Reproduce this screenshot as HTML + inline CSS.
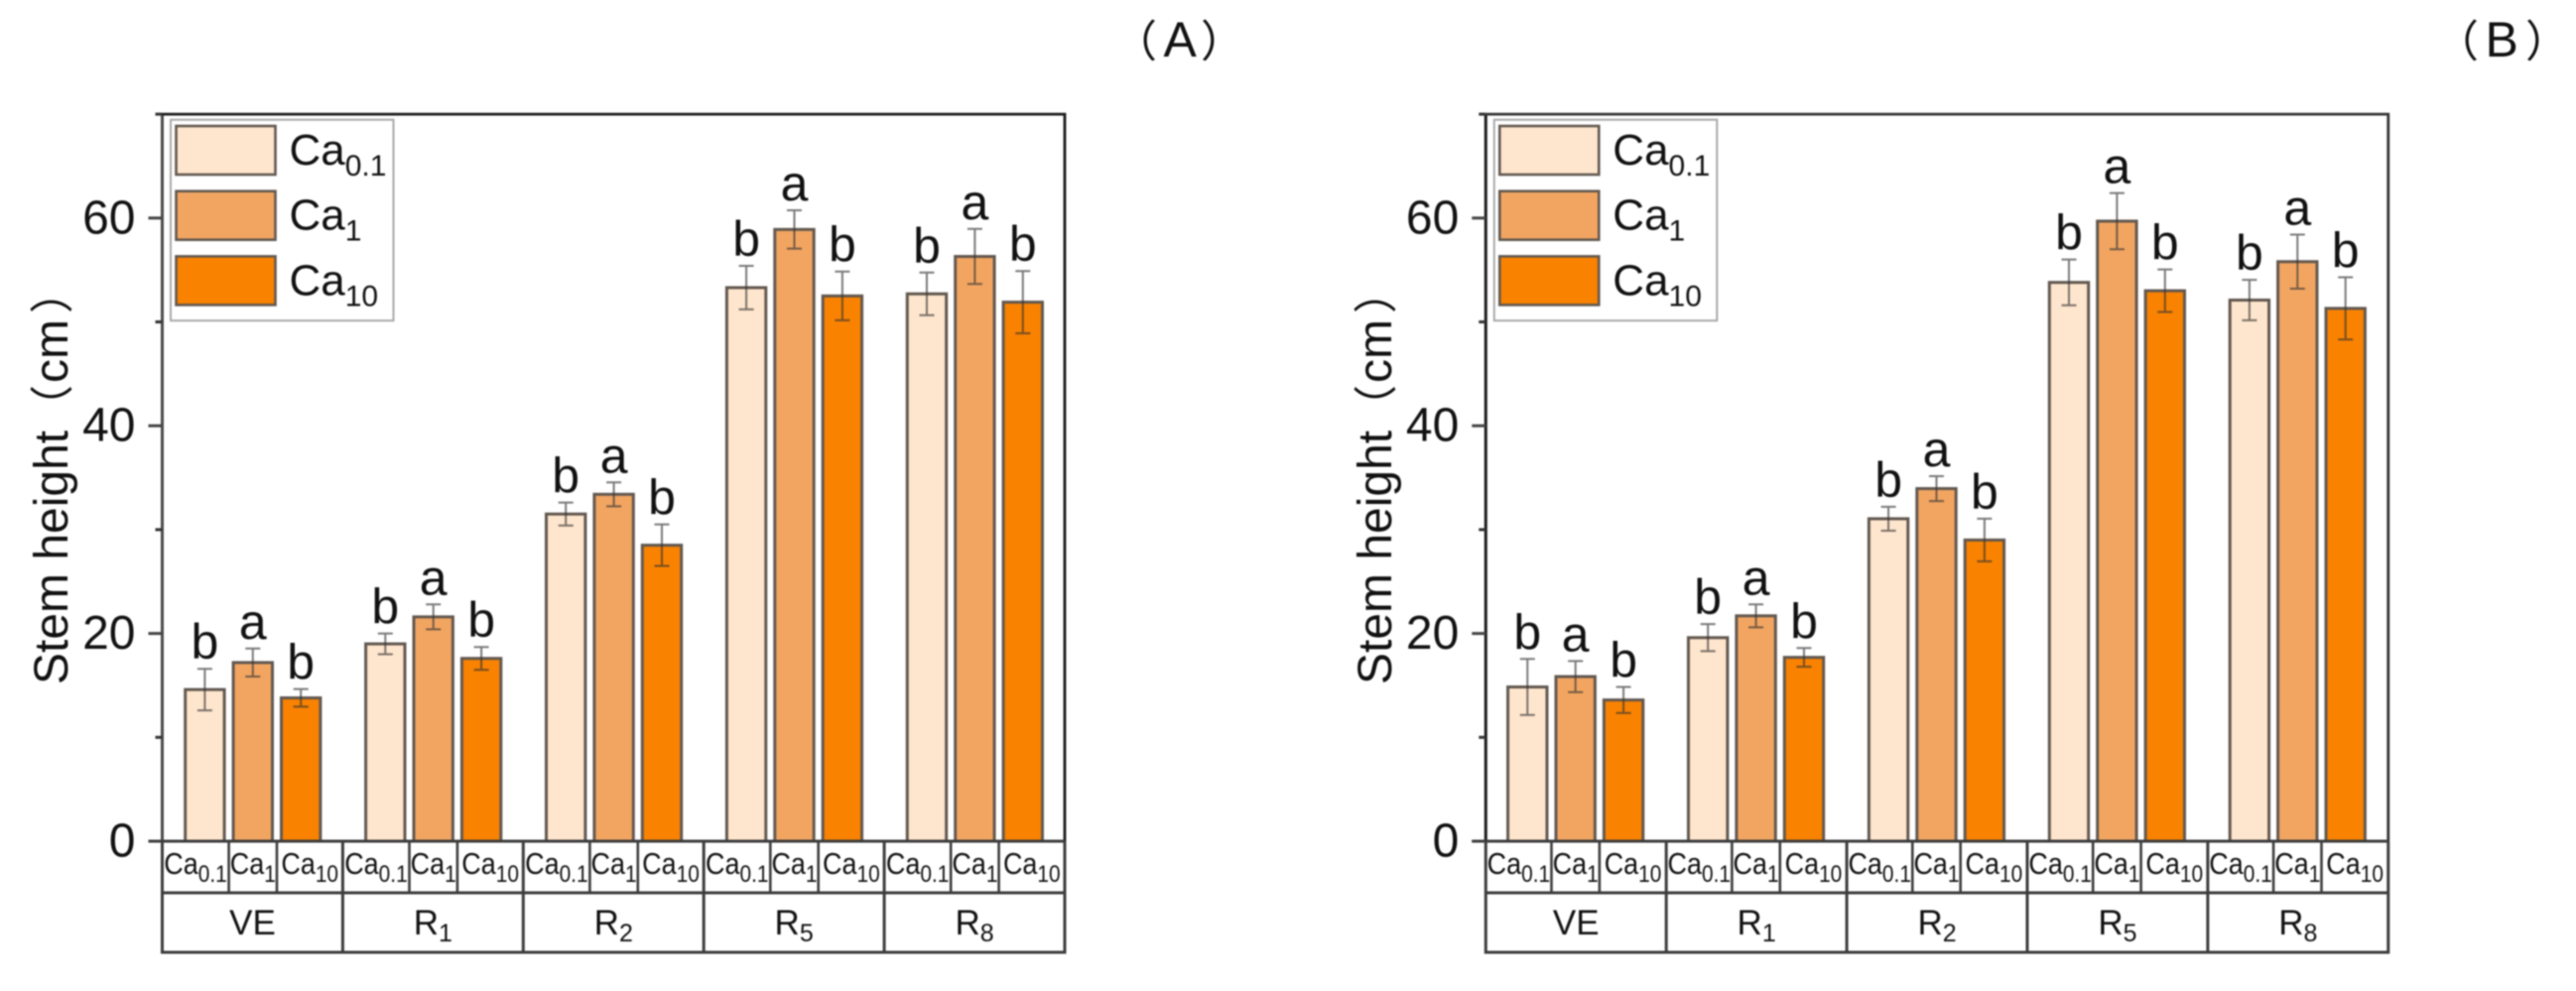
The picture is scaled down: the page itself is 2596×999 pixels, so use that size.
<!DOCTYPE html>
<html lang="en">
<head>
<meta charset="utf-8">
<title>Stem height bar charts</title>
<style>
html,body{margin:0;padding:0;background:#fff;width:2596px;height:999px;overflow:hidden}
svg{display:block;filter:blur(0.8px)}
text{font-family:"Liberation Sans","Noto Sans CJK SC",sans-serif;fill:#111;text-spacing-trim:space-all}
</style>
</head>
<body>
<svg id="figure" xmlns="http://www.w3.org/2000/svg" width="2596" height="999" viewBox="0 0 2596 999">
  <rect x="0" y="0" width="2596" height="999" fill="#ffffff"/>
</svg>
<script>
// ---- shared categories and labels ----
const stageNames = ['VE', 'R', 'R', 'R', 'R'];
const stageSubs = ['', '1', '2', '5', '8'];
const seriesBase = 'Ca';
const seriesSubs = ['0.1', '1', '10'];
const seriesColors = ['#FEE5CD', '#F2A561', '#F98200'];
const majorTicks = [0, 20, 40, 60];
const minorTicks = [10, 30, 50, 70];
const yAxisTitleMain = 'Stem height';
const yAxisTitleUnit = 'cm';

// ---- panel A values (rows: stages, columns: series) ----
const valuesA = [
  [14.6, 17.2, 13.8],
  [19.0, 21.6, 17.6],
  [31.5, 33.4, 28.5],
  [53.3, 58.9, 52.5],
  [52.7, 56.3, 51.9]
];
const errorsA = [
  [2.0, 1.35, 0.85],
  [1.0, 1.2, 1.1],
  [1.1, 1.15, 2.0],
  [2.1, 1.85, 2.35],
  [2.05, 2.65, 3.0]
];
const lettersA = [
  ['b', 'a', 'b'],
  ['b', 'a', 'b'],
  ['b', 'a', 'b'],
  ['b', 'a', 'b'],
  ['b', 'a', 'b']
];

// ---- panel B values ----
const valuesB = [
  [14.85, 15.85, 13.6],
  [19.6, 21.7, 17.7],
  [31.05, 33.95, 29.0],
  [53.8, 59.7, 53.0],
  [52.1, 55.8, 51.3]
];
const errorsB = [
  [2.7, 1.5, 1.25],
  [1.3, 1.1, 0.9],
  [1.15, 1.2, 2.05],
  [2.2, 2.7, 2.05],
  [1.95, 2.6, 3.0]
];
const lettersB = [
  ['b', 'a', 'b'],
  ['b', 'a', 'b'],
  ['b', 'a', 'b'],
  ['b', 'a', 'b'],
  ['b', 'a', 'b']
];

const NS = 'http://www.w3.org/2000/svg';
const root = document.getElementById('figure');

function make(tag, attrs, parent) {
  const el = document.createElementNS(NS, tag);
  for (const k in attrs) el.setAttribute(k, attrs[k]);
  parent.appendChild(el);
  return el;
}

function addSub(textEl, base, sub, subSize, dy) {
  const a = make('tspan', {}, textEl);
  a.textContent = base;
  if (sub) {
    const b = make('tspan', { 'font-size': subSize, dy: dy }, textEl);
    b.textContent = sub;
  }
}

function addRun(textEl, content, x, size) {
  const run = make('tspan', { x: x, 'font-size': size }, textEl);
  run.textContent = content;
}

function drawPanel(key, cfg, values, errors, letters) {
  const yScale = v => 848 - v * 10.47;
  const axisTop = yScale(70);
  const axisBottom = yScale(0);
  const groupStep = 181.9;
  const barStep = 48.4;
  const barWidth = 39.4;
  const barX = (g, s) => cfg.left + cfg.barOffset + g * groupStep + s * barStep;
  const right = cfg.left + 5 * groupStep;

  const panel = make('g', {}, root);
  
  

  // bars, whiskers, letters
  values.forEach((row, g) => {
    row.forEach((v, s) => {
      const bar = make('rect', {
        x: barX(g, s), y: yScale(v), width: barWidth, height: axisBottom - yScale(v),
        fill: seriesColors[s], stroke: '#625850', 'stroke-width': 3
      }, panel);
      
      

      const cx = barX(g, s) + barWidth / 2;
      const hi = yScale(v + errors[g][s]);
      const lo = yScale(v - errors[g][s]);
      const err = make('path', {
        d: 'M' + cx + ' ' + hi + 'V' + lo + 'M' + (cx - 7.5) + ' ' + hi + 'H' + (cx + 7.5) + 'M' + (cx - 7.5) + ' ' + lo + 'H' + (cx + 7.5),
        stroke: '#333', 'stroke-opacity': 0.65, 'stroke-width': 2, fill: 'none'
      }, panel);
      
      

      const letter = make('text', {
        x: cx, y: hi - 10, 'text-anchor': 'middle', 'font-size': 50
      }, panel);
      
      
      letter.textContent = letters[g][s];
    });
  });

  // plot frame
  const frame = make('path', {
    d: 'M' + cfg.left + ' ' + axisBottom + 'V' + axisTop,
    stroke: cfg.axisColor, 'stroke-width': 3, fill: 'none'
  }, panel);
  
  

  const topLine = make('path', {
    d: 'M' + cfg.left + ' ' + axisTop + 'H' + right + 'V' + axisBottom,
    stroke: cfg.frameColor, 'stroke-width': 2.8, fill: 'none'
  }, panel);
  
  

  // ticks
  majorTicks.forEach(t => {
    const tick = make('line', {
      x1: cfg.left - 14, x2: cfg.left, y1: yScale(t), y2: yScale(t),
      stroke: '#444', 'stroke-width': 3
    }, panel);
    
    

    const lab = make('text', {
      x: cfg.left - 27, y: yScale(t) + 15.5, 'text-anchor': 'end', 'font-size': 48
    }, panel);
    
    
    lab.textContent = t;
  });
  minorTicks.forEach(t => {
    const tick = make('line', {
      x1: cfg.left - 7, x2: cfg.left, y1: yScale(t), y2: yScale(t),
      stroke: '#333', 'stroke-width': 3
    }, panel);
    
    
  });

  // y axis title
  const title = make('text', {
    transform: 'translate(' + cfg.titleX + ' 690) rotate(-90)', 'font-size': 48
  }, panel);
  
  
  addRun(title, yAxisTitleMain, 0, 48);
  addRun(title, '\uFF08', 258, 44);
  addRun(title, yAxisTitleUnit, 304, 48);
  addRun(title, '\uFF09', 374, 44);

  // category table
  const rowOne = 900;
  const rowTwo = 960;
  const table = make('path', {
    d: 'M' + (cfg.left - 14) + ' ' + axisBottom + 'H' + right +
       'M' + cfg.left + ' ' + axisBottom + 'V' + rowTwo + 'H' + right + 'V' + axisBottom +
       'M' + cfg.left + ' ' + rowOne + 'H' + right,
    stroke: '#3d3d3d', 'stroke-width': 3, fill: 'none'
  }, panel);
  
  

  stageNames.forEach((name, g) => {
    const gLeft = cfg.left + g * groupStep;
    const gRight = gLeft + groupStep;
    if (g > 0) {
      const div = make('line', {
        x1: gLeft, x2: gLeft, y1: axisBottom, y2: rowTwo, stroke: '#3d3d3d', 'stroke-width': 3
      }, panel);
      
      
    }
    const stage = make('text', {
      x: (gLeft + gRight) / 2, y: 942, 'text-anchor': 'middle', 'font-size': 35
    }, panel);
    
    
    addSub(stage, name, stageSubs[g], 25, 7);

    seriesSubs.forEach((sub, s) => {
      const cellLeft = s === 0 ? gLeft : barX(g, s) - (barStep - barWidth) / 2;
      const cellRight = s === 2 ? gRight : barX(g, s) + barWidth + (barStep - barWidth) / 2;
      if (s > 0) {
        const sep = make('line', {
          x1: cellLeft, x2: cellLeft, y1: axisBottom, y2: rowOne, stroke: '#3d3d3d', 'stroke-width': 2.6
        }, panel);
        
        
      }
      const cat = make('text', {
        transform: 'translate(' + (cellLeft + cellRight) / 2 + ' 881) scale(0.87 1)',
        'text-anchor': 'middle', 'font-size': 31
      }, panel);
      
      
      addSub(cat, seriesBase, sub, 24, 8);
    });
  });

  // legend
  const legend = make('g', {}, panel);
  
  
  const box = make('rect', {
    x: cfg.left + 8.5, y: 120.7, width: 224.5, height: 202.5,
    fill: '#fff', stroke: '#a8a8a8', 'stroke-width': 2
  }, legend);
  
  
  seriesSubs.forEach((sub, s) => {
    const sy = 127 + s * 65.7;
    const sw = make('rect', {
      x: cfg.left + 14, y: sy, width: 100, height: 49,
      fill: seriesColors[s], stroke: '#625850', 'stroke-width': 2.6
    }, legend);
    
    
    const t = make('text', {
      x: cfg.left + 128, y: sy + 39, 'font-size': 44
    }, legend);
    
    
    addSub(t, seriesBase, sub, 30, 11);
  });

  // panel tag
  const tag = make('text', { y: 57, 'font-size': 50 }, panel);
  
  
  addRun(tag, '\uFF08', cfg.tagOpenX, 44);
  addRun(tag, cfg.tag, cfg.tagX, 50);
  addRun(tag, '\uFF09', cfg.tagCloseX, 44);
}

drawPanel('a', { left: 163.5, barOffset: 23.2, titleX: 68, tagOpenX: 1122, tagX: 1172.5, tagCloseX: 1210, tag: 'A', axisColor: '#4a4a4a', frameColor: '#1a1a1a' }, valuesA, errorsA, lettersA);
drawPanel('b', { left: 1497.3, barOffset: 22.3, titleX: 1402, tagOpenX: 2454, tagX: 2504.5, tagCloseX: 2545, tag: 'B', axisColor: '#1a1a1a', frameColor: '#333333' }, valuesB, errorsB, lettersB);
</script>
</body>
</html>
